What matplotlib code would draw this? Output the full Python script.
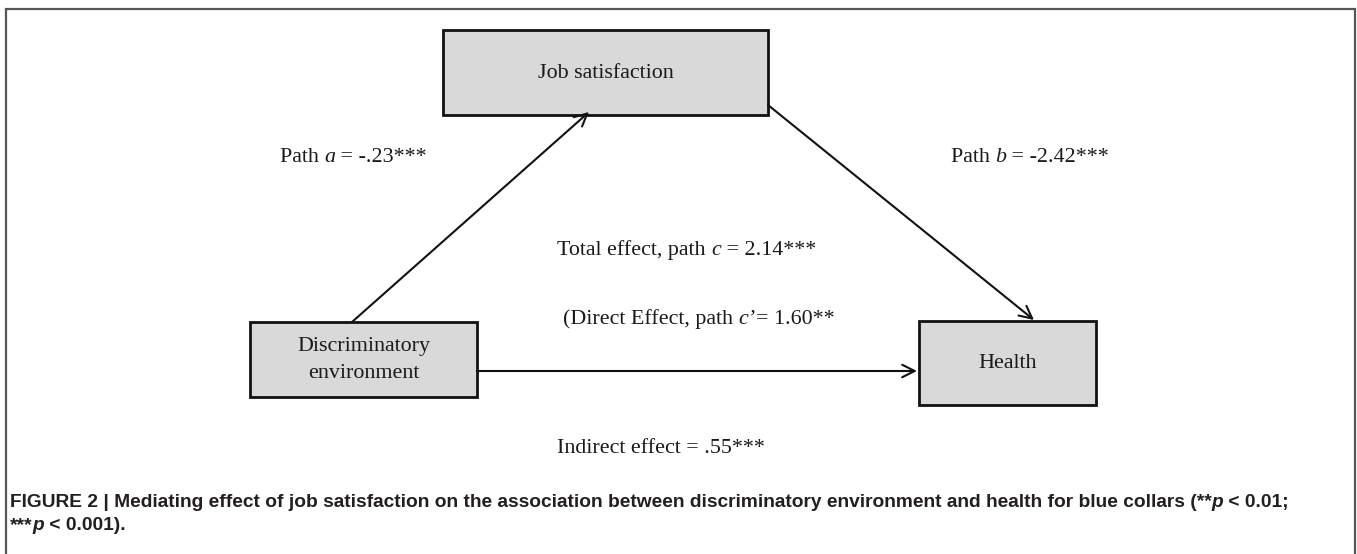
import matplotlib
matplotlib.use("Agg")
import matplotlib.pyplot as plt
from matplotlib.patches import Rectangle

# ---- data ----
node_names = ["Job satisfaction", "Discriminatory\nenvironment", "Health"]
path_labels = ["a", "b", "c", "c'"]
path_values = ["-.23", "-2.42", "2.14", "1.60"]
path_stars = ["***", "***", "***", "**"]
indirect_value = ".55"
indirect_stars = "***"
caption_parts = [
    ("FIGURE 2 | Mediating effect of job satisfaction on the association between discriminatory environment and health for blue collars (**", "n"),
    ("p", "i"), (" < 0.01;", "n"),
]
caption_parts2 = [("***", "n"), ("p", "i"), (" < 0.001).", "n")]

W, H = 1357, 554
fig = plt.figure(figsize=(W / 100, H / 100), dpi=100)
ax = fig.add_axes([0, 0, 1, 1])
ax.set_xlim(0, W)
ax.set_ylim(H, 0)
ax.axis("off")

# outer frame
ax.plot([6, 6, 1355, 1355], [H + 5, 9, 9, H + 5], color="#555555", lw=1.6,
        solid_joinstyle="miter", clip_on=False)

SERIF = "Liberation Serif"
TXT = "#1a1a1a"
FS = 15.8

boxes = {
    0: (443, 30, 768, 115),
    1: (250, 322, 477, 397),
    2: (919, 321, 1096, 405),
}
for i, (x0, y0, x1, y1) in boxes.items():
    ax.add_patch(Rectangle((x0, y0), x1 - x0, y1 - y0, facecolor="#d9d9d9",
                           edgecolor="#111111", lw=2.0, zorder=2))
    ax.text((x0 + x1) / 2, (y0 + y1) / 2 + 0.5, node_names[i], ha="center", va="center",
            fontsize=FS, family=SERIF, color=TXT, linespacing=1.6, zorder=3)

arrow_kw = dict(arrowstyle="->,head_length=0.9,head_width=0.45", color="#111111",
                lw=1.5, shrinkA=0, shrinkB=0)
ax.annotate("", xy=(589, 112), xytext=(352, 322), arrowprops=arrow_kw)
ax.annotate("", xy=(1034, 320), xytext=(768, 105), arrowprops=arrow_kw)
ax.annotate("", xy=(917, 371), xytext=(477, 371), arrowprops=arrow_kw)

fig.canvas.draw()
renderer = fig.canvas.get_renderer()


def draw_pieces(x, y, pieces, family, size, weight="normal", color=TXT):
    """pieces: list of (text, 'n'|'i'); drawn left to right, y = baseline."""
    for s, st in pieces:
        t = ax.text(x, y, s, ha="left", va="baseline", fontsize=size, family=family,
                    style="italic" if st == "i" else "normal", weight=weight, color=color)
        bb = t.get_window_extent(renderer=renderer)
        x += bb.width  # 1 data unit == 1 pixel
    return x


draw_pieces(280, 162, [("Path ", "n"), (path_labels[0], "i"),
                       (" = " + path_values[0] + path_stars[0], "n")], SERIF, FS)
draw_pieces(951, 162, [("Path ", "n"), (path_labels[1], "i"),
                       (" = " + path_values[1] + path_stars[1], "n")], SERIF, FS)
draw_pieces(557, 255, [("Total effect, path ", "n"), (path_labels[2], "i"),
                       (" = " + path_values[2] + path_stars[2], "n")], SERIF, FS)
draw_pieces(563, 324, [("(Direct Effect, path ", "n"), (path_labels[3][0] + "\u2019", "i"),
                       ("= " + path_values[3] + path_stars[3], "n")], SERIF, FS)
draw_pieces(557, 453, [("Indirect effect = " + indirect_value + indirect_stars, "n")], SERIF, FS)

CAP = "Liberation Sans"
draw_pieces(10, 507, caption_parts, CAP, 13.75, weight="bold", color="#231f20")
draw_pieces(10, 530, caption_parts2, CAP, 13.75, weight="bold", color="#231f20")

fig.savefig("out.png", dpi=100, facecolor="white")
